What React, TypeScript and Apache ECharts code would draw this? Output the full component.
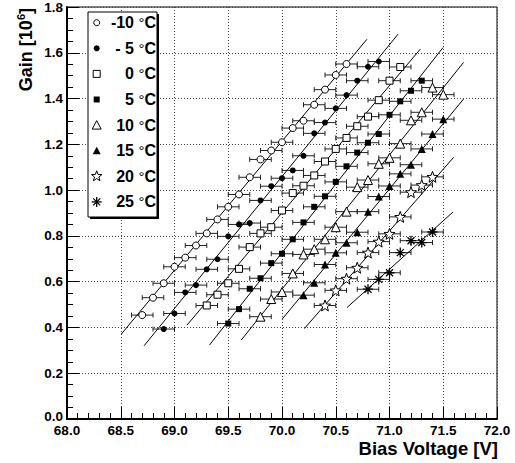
import React, { useEffect, useRef } from 'react';
import * as echarts from 'echarts';

// ---- data ----
const tempLabels = ['-10', '- 5', '0', '5', '10', '15', '20', '25'];

const voltM10 = [68.7, 68.8, 68.9, 69.0, 69.1, 69.2, 69.3, 69.4, 69.5, 69.6, 69.7, 69.8, 69.9, 70.0, 70.1, 70.2, 70.3, 70.4, 70.5, 70.6];
const gainM10 = [0.454, 0.530, 0.593, 0.665, 0.705, 0.758, 0.811, 0.872, 0.927, 0.981, 1.056, 1.134, 1.173, 1.209, 1.271, 1.303, 1.373, 1.439, 1.503, 1.551];

const voltM5 = [68.9, 69.0, 69.1, 69.2, 69.3, 69.4, 69.5, 69.6, 69.7, 69.8, 69.9, 70.0, 70.1, 70.2, 70.3, 70.4, 70.5, 70.6, 70.7, 70.8, 70.9];
const gainM5 = [0.393, 0.461, 0.553, 0.585, 0.654, 0.698, 0.798, 0.850, 0.856, 0.955, 1.017, 1.052, 1.086, 1.150, 1.248, 1.295, 1.357, 1.415, 1.478, 1.539, 1.562];

const volt0 = [69.3, 69.4, 69.5, 69.6, 69.7, 69.8, 69.9, 70.0, 70.1, 70.2, 70.3, 70.4, 70.5, 70.6, 70.7, 70.8, 70.9, 71.0, 71.1];
const gain0 = [0.496, 0.543, 0.593, 0.656, 0.751, 0.811, 0.838, 0.911, 0.987, 1.019, 1.064, 1.125, 1.180, 1.228, 1.279, 1.321, 1.393, 1.478, 1.538];

const volt5 = [69.5, 69.6, 69.7, 69.8, 69.9, 70.0, 70.1, 70.2, 70.3, 70.4, 70.5, 70.6, 70.7, 70.8, 70.9, 71.0, 71.1, 71.2, 71.3];
const gain5 = [0.417, 0.480, 0.569, 0.615, 0.681, 0.722, 0.785, 0.859, 0.927, 0.973, 1.036, 1.104, 1.164, 1.207, 1.245, 1.329, 1.388, 1.434, 1.478];

const volt10 = [69.8, 69.9, 70.0, 70.1, 70.2, 70.3, 70.4, 70.5, 70.6, 70.7, 70.8, 70.9, 71.0, 71.1, 71.2, 71.3, 71.4, 71.5];
const gain10 = [0.447, 0.524, 0.555, 0.636, 0.719, 0.742, 0.785, 0.838, 0.906, 1.013, 1.044, 1.115, 1.141, 1.203, 1.305, 1.340, 1.448, 1.417];

const volt15 = [70.2, 70.3, 70.4, 70.5, 70.6, 70.7, 70.8, 70.9, 71.0, 71.1, 71.2, 71.3, 71.4, 71.5];
const gain15 = [0.541, 0.595, 0.675, 0.726, 0.770, 0.816, 0.906, 0.972, 1.018, 1.071, 1.111, 1.180, 1.245, 1.310];

const volt20 = [70.4, 70.5, 70.6, 70.7, 70.8, 70.9, 71.0, 71.1, 71.2, 71.3, 71.4];
const gain20 = [0.496, 0.562, 0.613, 0.661, 0.727, 0.775, 0.809, 0.883, 0.991, 1.022, 1.058];

const volt25 = [70.8, 70.9, 71.0, 71.1, 71.2, 71.3, 71.4];
const gain25 = [0.567, 0.610, 0.639, 0.727, 0.779, 0.771, 0.817];

const voltError = 0.1;

// fit lines: start and end points per temperature
const fitVoltStart = [68.505, 68.717, 69.116, 69.325, 69.621, 70.003, 70.208, 70.605];
const fitGainStart = [0.371, 0.320, 0.410, 0.323, 0.345, 0.437, 0.395, 0.487];
const fitVoltEnd = [70.79, 71.079, 71.287, 71.498, 71.689, 71.689, 71.596, 71.59];
const fitGainEnd = [1.659, 1.681, 1.616, 1.623, 1.558, 1.398, 1.143, 0.904];

const volts = [voltM10, voltM5, volt0, volt5, volt10, volt15, volt20, volt25];
const gains = [gainM10, gainM5, gain0, gain5, gain10, gain15, gain20, gain25];

// ---- styling ----
const FONT = "'Liberation Sans', Arial, Helvetica, sans-serif";
const ZL = 110;

function starPoints(cx: number, cy: number, R: number, r: number): number[][] {
  const pts: number[][] = [];
  for (let i = 0; i < 10; i++) {
    const a = -Math.PI / 2 + (i * Math.PI) / 5;
    const rad = i % 2 === 0 ? R : r;
    pts.push([cx + rad * Math.cos(a), cy + rad * Math.sin(a)]);
  }
  return pts;
}
const starPath =
  'path://' +
  starPoints(50, 50, 50, 21)
    .map((p, i) => (i === 0 ? 'M' : 'L') + p[0].toFixed(2) + ',' + p[1].toFixed(2))
    .join('') +
  'Z';
const asteriskPath = 'path://M50,0L50,100M0,50L100,50M15,15L85,85M15,85L85,15';

type Mk = { symbol: string; size: number; fill: string; bw: number };
const markers: Mk[] = [
  { symbol: 'circle', size: 7, fill: '#fff', bw: 1 },
  { symbol: 'circle', size: 6, fill: '#000', bw: 0 },
  { symbol: 'rect', size: 7, fill: '#fff', bw: 1 },
  { symbol: 'rect', size: 6, fill: '#000', bw: 0 },
  { symbol: 'triangle', size: 9, fill: '#fff', bw: 1 },
  { symbol: 'triangle', size: 8, fill: '#000', bw: 0 },
  { symbol: starPath, size: 11, fill: '#fff', bw: 1 },
  { symbol: asteriskPath, size: 10, fill: 'none', bw: 1.3 },
];

function legendMarker(i: number, cx: number, cy: number): any[] {
  const stroke = '#000';
  switch (i) {
    case 0:
      return [{ type: 'circle', z: ZL, shape: { cx, cy, r: 3 }, style: { fill: '#fff', stroke, lineWidth: 1 } }];
    case 1:
      return [{ type: 'circle', z: ZL, shape: { cx, cy, r: 3 }, style: { fill: '#000' } }];
    case 2:
      return [{ type: 'rect', z: ZL, shape: { x: cx - 3.5, y: cy - 3.5, width: 7, height: 7 }, style: { fill: '#fff', stroke, lineWidth: 1 } }];
    case 3:
      return [{ type: 'rect', z: ZL, shape: { x: cx - 3, y: cy - 3, width: 6, height: 6 }, style: { fill: '#000' } }];
    case 4:
      return [{ type: 'polygon', z: ZL, shape: { points: [[cx, cy - 4.5], [cx + 4.5, cy + 4], [cx - 4.5, cy + 4]] }, style: { fill: '#fff', stroke, lineWidth: 1 } }];
    case 5:
      return [{ type: 'polygon', z: ZL, shape: { points: [[cx, cy - 4], [cx + 4, cy + 3.5], [cx - 4, cy + 3.5]] }, style: { fill: '#000' } }];
    case 6:
      return [{ type: 'polygon', z: ZL, shape: { points: starPoints(cx, cy, 5.5, 2.3) }, style: { fill: '#fff', stroke, lineWidth: 1 } }];
    default: {
      const s = 5, d = 3.5;
      const ln = (x1: number, y1: number, x2: number, y2: number) => ({
        type: 'line', z: ZL, shape: { x1, y1, x2, y2 }, style: { stroke, lineWidth: 1.3 },
      });
      return [
        ln(cx, cy - s, cx, cy + s),
        ln(cx - s, cy, cx + s, cy),
        ln(cx - d, cy - d, cx + d, cy + d),
        ln(cx - d, cy + d, cx + d, cy - d),
      ];
    }
  }
}

export default function App() {
  const ref = useRef<HTMLDivElement>(null);

  useEffect(() => {
    if (!ref.current) return;
    const chart = echarts.init(ref.current, null, { renderer: 'svg' });

    const errData: number[][] = [];
    volts.forEach((vs, k) => vs.forEach((v, j) => errData.push([v, gains[k][j], voltError])));

    const series: any[] = [
      {
        type: 'custom',
        silent: true,
        z: 2,
        data: errData,
        encode: { x: 0, y: 1 },
        renderItem: (params: any, api: any) => {
          const v = api.value(0);
          const g = api.value(1);
          const e = api.value(2);
          const p1 = api.coord([v - e, g]);
          const p2 = api.coord([v + e, g]);
          const c = 2.5;
          const st = { stroke: '#222', lineWidth: 1 };
          return {
            type: 'group',
            children: [
              { type: 'line', shape: { x1: p1[0], y1: p1[1], x2: p2[0], y2: p2[1] }, style: st },
              { type: 'line', shape: { x1: p1[0], y1: p1[1] - c, x2: p1[0], y2: p1[1] + c }, style: st },
              { type: 'line', shape: { x1: p2[0], y1: p2[1] - c, x2: p2[0], y2: p2[1] + c }, style: st },
            ],
          };
        },
      },
    ];

    fitVoltStart.forEach((v0, k) => {
      series.push({
        type: 'line',
        silent: true,
        z: 3,
        symbol: 'none',
        lineStyle: { color: '#000', width: 1 },
        data: [
          [v0, fitGainStart[k]],
          [fitVoltEnd[k], fitGainEnd[k]],
        ],
      });
    });

    volts.forEach((vs, k) => {
      const m = markers[k];
      series.push({
        type: 'scatter',
        name: tempLabels[k] + ' °C',
        z: 4,
        symbol: m.symbol,
        symbolSize: m.size,
        itemStyle: {
          color: m.fill,
          borderColor: '#000',
          borderWidth: m.bw,
          opacity: 1,
        },
        data: vs.map((v, j) => [v, gains[k][j]]),
      });
    });

    const legendX = 88, legendY = 12, legendW = 69, legendH = 205;
    const legendItems: any[] = [];
    tempLabels.forEach((t, i) => {
      const cy = 22.7 + i * 25.6;
      legendItems.push(...legendMarker(i, 96.7, cy));
      legendItems.push({
        type: 'text',
        z: ZL,
        x: 156,
        y: cy,
        style: {
          text: `{a|${t} }{d|°}{a|C}`,
          align: 'right',
          verticalAlign: 'middle',
          rich: {
            a: { fontFamily: FONT, fontWeight: 'bold', fontSize: 16, fill: '#000' },
            d: { fontFamily: FONT, fontWeight: 'normal', fontSize: 15, fill: '#000' },
          },
        },
      });
    });

    const labelRich = {
      z: { fontFamily: FONT, fontWeight: 'bold', fontSize: 13.5, color: '#000', lineHeight: 10, padding: [0, 0, 5, 0] },
    };

    const option: any = {
      animation: false,
      backgroundColor: '#fff',
      grid: {
        left: 67,
        top: 6,
        width: 430,
        height: 413,
        show: true,
        borderColor: '#000',
        borderWidth: 1,
        backgroundColor: 'transparent',
      },
      xAxis: {
        type: 'value',
        min: 68,
        max: 72,
        interval: 0.5,
        axisLine: { show: true, onZero: false, lineStyle: { color: '#000', width: 2 } },
        axisTick: { show: true, inside: true, length: 12, lineStyle: { color: '#000', width: 1 } },
        minorTick: { show: true, splitNumber: 5, length: 6, lineStyle: { color: '#000', width: 1 } },
        splitLine: { show: true, lineStyle: { color: '#444', width: 1, type: [1, 2] } },
        axisLabel: {
          show: true,
          margin: 5,
          lineHeight: 12,
          showMinLabel: true,
          showMaxLabel: true,
          formatter: (v: number) => v.toFixed(1),
          fontFamily: FONT,
          fontWeight: 'bold',
          fontSize: 13.5,
          color: '#000',
        },
      },
      yAxis: {
        type: 'value',
        min: 0,
        max: 1.8,
        interval: 0.2,
        axisLine: { show: true, onZero: false, lineStyle: { color: '#000', width: 2 } },
        axisTick: { show: true, inside: true, length: 12, lineStyle: { color: '#000', width: 1 } },
        minorTick: { show: true, splitNumber: 4, length: 6, lineStyle: { color: '#000', width: 1 } },
        splitLine: { show: true, lineStyle: { color: '#444', width: 1, type: [1, 2] } },
        axisLabel: {
          show: true,
          margin: 4,
          lineHeight: 10,
          showMinLabel: true,
          showMaxLabel: true,
          formatter: (v: number) => (v === 0 ? '{z|' + v.toFixed(1) + '}' : v.toFixed(1)),
          rich: labelRich,
          fontFamily: FONT,
          fontWeight: 'bold',
          fontSize: 13.5,
          color: '#000',
        },
      },
      series,
      graphic: [
        {
          type: 'rect',
          z: 100,
          shape: { x: legendX + 2, y: legendY + 2, width: legendW, height: legendH },
          style: { fill: '#000' },
        },
        {
          type: 'rect',
          z: 101,
          shape: { x: legendX, y: legendY, width: legendW, height: legendH },
          style: { fill: '#fff', stroke: '#000', lineWidth: 1 },
        },
        ...legendItems,
        {
          type: 'text',
          z: ZL,
          x: 26,
          y: 8,
          rotation: Math.PI / 2,
          style: {
            text: '{a|Gain [10}{s|6}{a|]}',
            align: 'right',
            verticalAlign: 'middle',
            rich: {
              a: { fontFamily: FONT, fontWeight: 'bold', fontSize: 18, lineHeight: 22, fill: '#000' },
              s: { fontFamily: FONT, fontWeight: 'bold', fontSize: 11, lineHeight: 11, verticalAlign: 'top', fill: '#000' },
            },
          },
        },
        {
          type: 'text',
          z: ZL,
          x: 498,
          y: 448.5,
          style: {
            text: 'Bias Voltage [V]',
            align: 'right',
            verticalAlign: 'middle',
            fontFamily: FONT,
            fontWeight: 'bold',
            fontSize: 18.5,
            fill: '#000',
          },
        },
      ],
    };

    chart.setOption(option);
    return () => chart.dispose();
  }, []);

  return (
    <div
      ref={ref}
      style={{ position: 'absolute', left: 0, top: 0, width: 515, height: 463, background: '#fff' }}
    />
  );
}
